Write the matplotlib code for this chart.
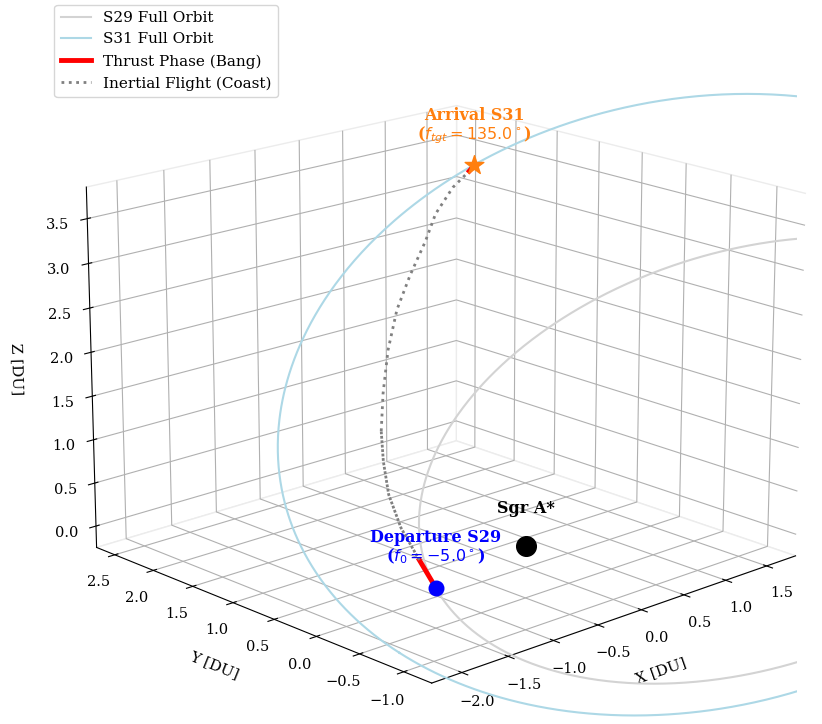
import numpy as np
import matplotlib
matplotlib.use("Agg")
import matplotlib.pyplot as plt

plt.rcParams['font.family'] = 'serif'

# --- orbits (a in DU, e, unit vectors to periapsis and 90 deg ahead) ---
s29_a = 3.19
s29_e = 0.72
s29_p_hat = [-0.929, 0.270, -0.253]
s29_q_hat = [-0.149, 0.352, 0.924]

s31_a = 3.68
s31_e = 0.55
s31_p_hat = [-0.432, 0.457, -0.778]
s31_q_hat = [-0.479, 0.615, 0.627]

f_dep = -5.0   # deg, S29
f_arr = 135.0  # deg, S31

# --- transfer path [DU] ---
traj_x = [-0.815, -0.884, -0.959, -0.996, -0.992, -0.972, -0.921, -0.845,
          -0.749, -0.634, -0.509, -0.420, -0.290, -0.176, -0.139]
traj_y = [0.213, 0.337, 0.474, 0.579, 0.645, 0.690, 0.721, 0.741,
          0.736, 0.701, 0.654, 0.628, 0.562, 0.490, 0.468]
traj_z = [-0.297, 0.002, 0.344, 0.697, 1.049, 1.370, 1.765, 2.225,
          2.652, 3.016, 3.369, 3.657, 3.935, 4.106, 4.169]
burn1_end = 1     # last index of first thrust arc
dense_end = 5     # coast drawn with tight dots up to here
burn2_start = 13  # final thrust arc


def orbit_xyz(a, e, p_hat, q_hat, f_deg):
    f = np.radians(f_deg)
    r = a * (1 - e**2) / (1 + e * np.cos(f))
    p = np.asarray(p_hat)[:, None]
    q = np.asarray(q_hat)[:, None]
    return r * np.cos(f) * p + r * np.sin(f) * q


ang = np.linspace(0, 360, 721)
s29 = orbit_xyz(s29_a, s29_e, s29_p_hat, s29_q_hat, ang)
s31 = orbit_xyz(s31_a, s31_e, s31_p_hat, s31_q_hat, ang)
dep = orbit_xyz(s29_a, s29_e, s29_p_hat, s29_q_hat, np.array([f_dep]))[:, 0]
arr = orbit_xyz(s31_a, s31_e, s31_p_hat, s31_q_hat, np.array([f_arr]))[:, 0]

tx, ty, tz = np.array(traj_x), np.array(traj_y), np.array(traj_z)

fig = plt.figure(figsize=(8.22, 7.24), dpi=100)
ax = fig.add_axes([0.089, -0.0295, 0.881, 1.0], projection='3d')

ax.plot(*s29, color='lightgray', lw=1.5, label='S29 Full Orbit')
ax.plot(*s31, color='lightblue', lw=1.5, label='S31 Full Orbit')

ax.plot(tx[:burn1_end + 1], ty[:burn1_end + 1], tz[:burn1_end + 1],
        color='red', lw=3.5, label='Thrust Phase (Bang)')
ax.plot(tx[burn1_end:dense_end + 1], ty[burn1_end:dense_end + 1], tz[burn1_end:dense_end + 1],
        color='gray', lw=2, ls=(0, (1, 0.6)))
ax.plot(tx[dense_end:burn2_start + 1], ty[dense_end:burn2_start + 1], tz[dense_end:burn2_start + 1],
        color='gray', lw=2, ls=':', label='Inertial Flight (Coast)')
ax.plot(tx[burn2_start:], ty[burn2_start:], tz[burn2_start:], color='red', lw=3.5)

ax.scatter([0], [0], [0], color='black', s=200, depthshade=False)
ax.scatter([dep[0]], [dep[1]], [dep[2]], color='blue', s=110, depthshade=False)
ax.scatter([arr[0]], [arr[1]], [arr[2]], color='#ff7f0e', marker='*', s=200, depthshade=False)

ax.text(0, 0, 0.33, 'Sgr A*', ha='center', va='bottom', fontsize=11.5, fontweight='bold', color='black')
ax.text(dep[0], dep[1], dep[2] + 0.25, 'Departure S29\n($f_0 = %.1f^\\circ$)' % f_dep,
        ha='center', va='bottom', fontsize=11.5, fontweight='bold', color='blue', linespacing=1.05)
ax.text(arr[0], arr[1], arr[2] + 0.2, 'Arrival S31\n($f_{tgt} = %.1f^\\circ$)' % f_arr,
        ha='center', va='bottom', fontsize=11.5, fontweight='bold', color='#ff7f0e', linespacing=1.05)

ax.set_xlim(-2.32, 1.86)
ax.set_ylim(-1.31, 2.74)
ax.set_zlim(-0.25, 3.85)
ax.set_xlabel('X [DU]', fontsize=11, labelpad=8)
ax.set_ylabel('Y [DU]', fontsize=11, labelpad=8)
ax.set_zlabel('Z [DU]', fontsize=11, labelpad=8)
ax.tick_params(labelsize=10.5)
for axis in (ax.xaxis, ax.yaxis, ax.zaxis):
    axis.set_pane_color((1, 1, 1, 1))
    axis.pane.set_edgecolor('#ececec')
ax.set_box_aspect((4, 4, 3.02), zoom=1.0785)
ax.view_init(elev=17.5, azim=-133)

fig.legend(loc='upper left', bbox_to_anchor=(0.057, 1.004), fontsize=11)

fig.savefig('out.png', dpi=100)
